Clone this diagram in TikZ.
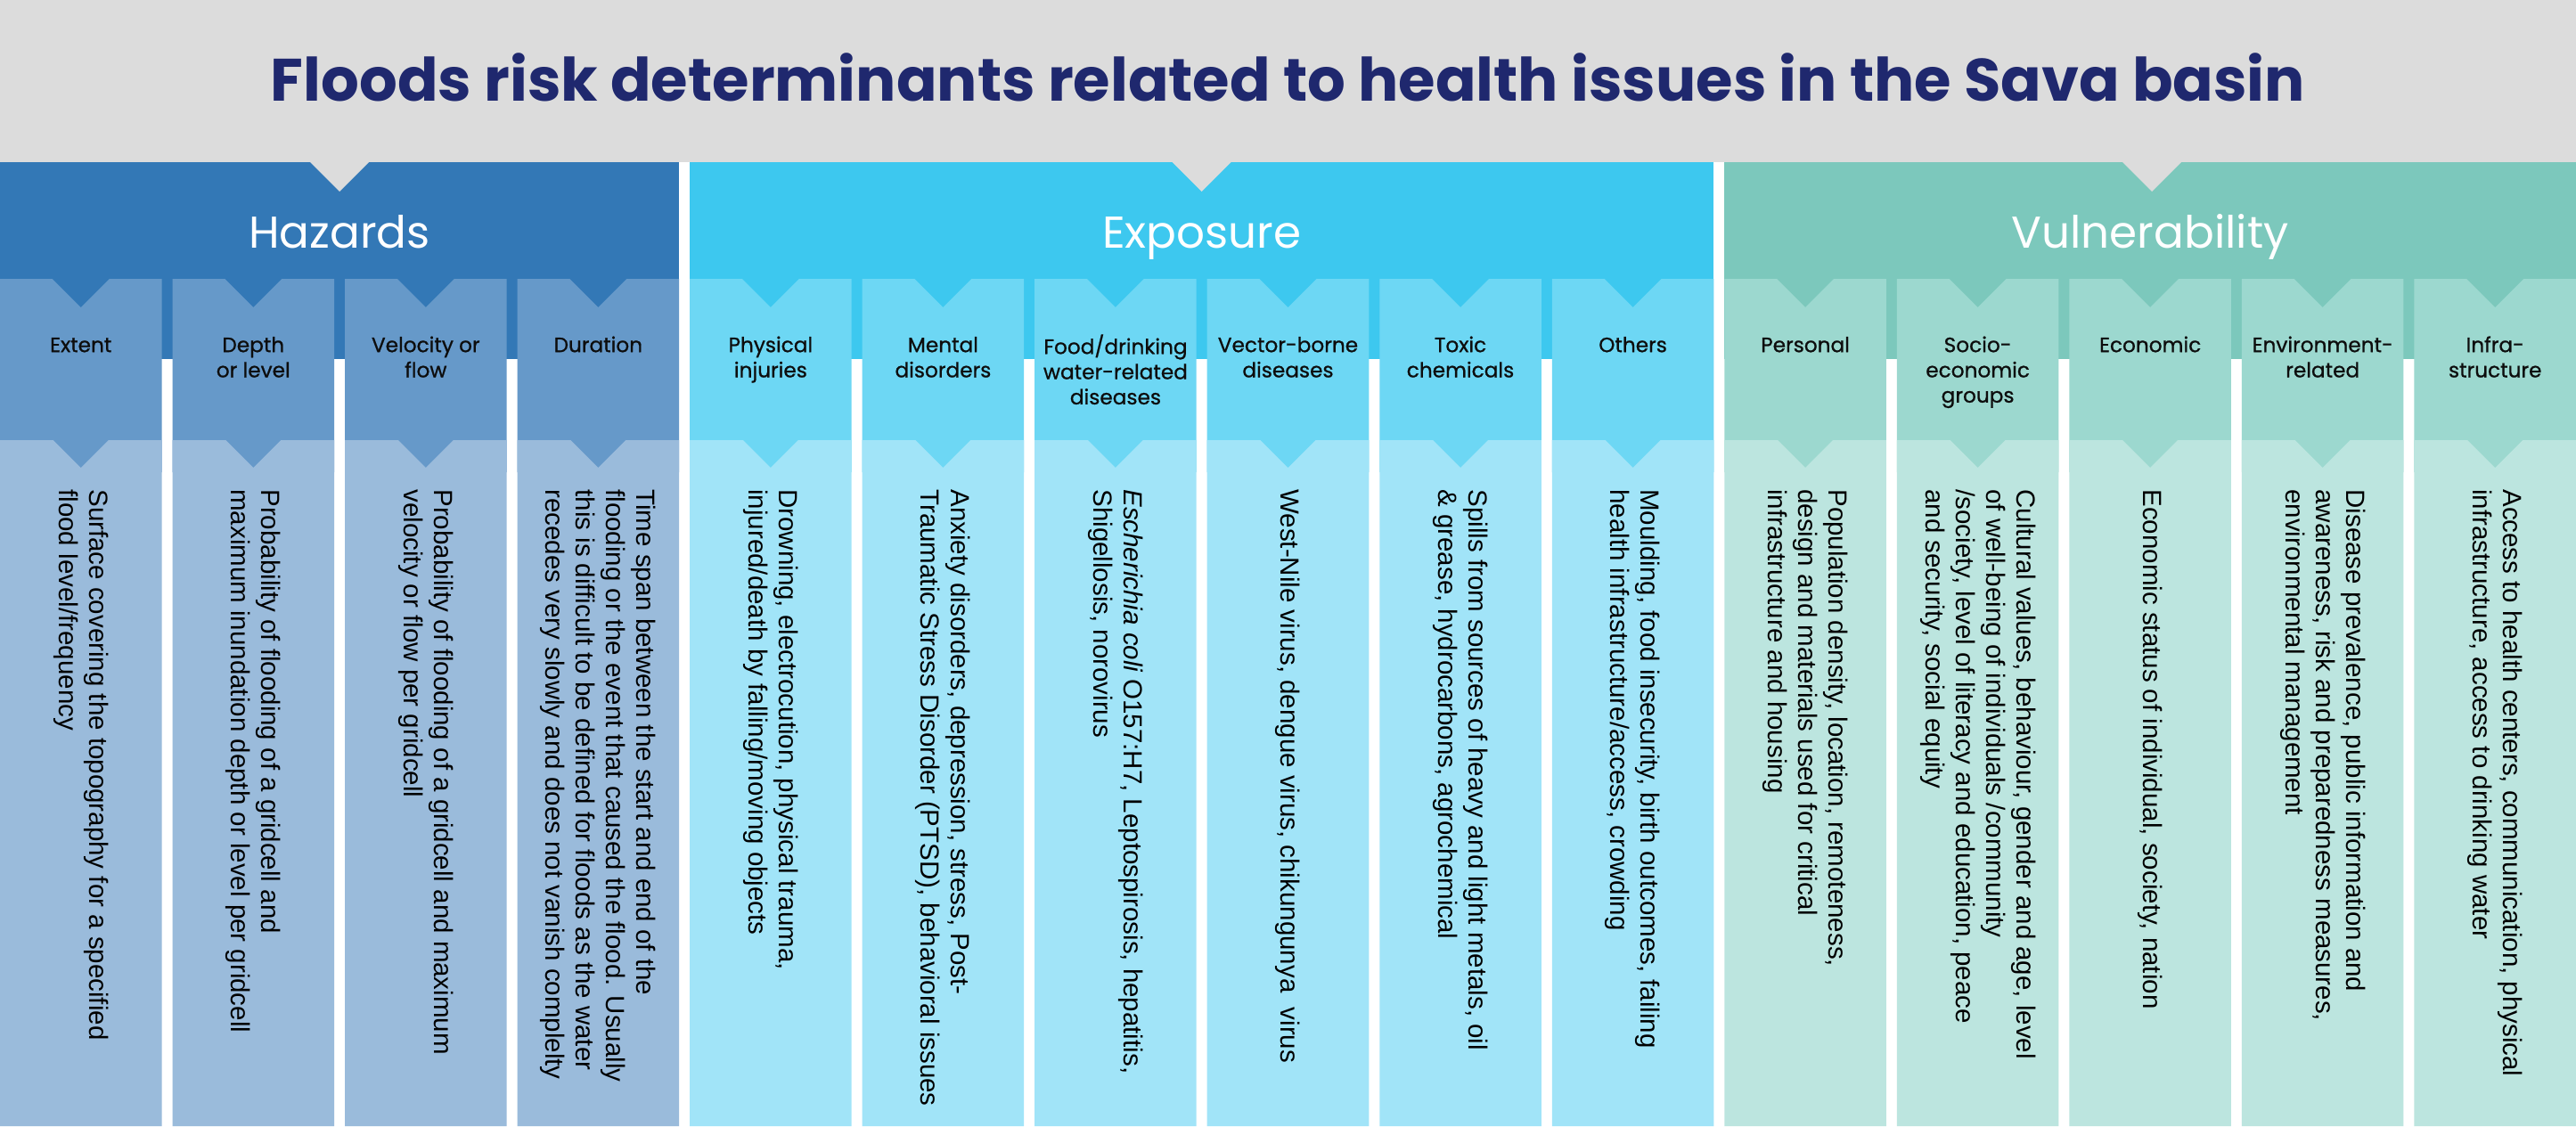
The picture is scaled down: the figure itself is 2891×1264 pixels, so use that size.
\documentclass[tikz,border=0pt]{standalone}
\usepackage{fontspec}
\setmainfont{Liberation Sans}
\newfontfamily\popfont{Poppins}
\newfontfamily\popmed[FakeBold=0.8]{Poppins}
\definecolor{topgray}{HTML}{DCDCDC}
\definecolor{titleblue}{HTML}{1F286E}
\definecolor{hazband}{HTML}{3378B6}
\definecolor{hazsub}{HTML}{6699C9}
\definecolor{hazlow}{HTML}{9ABBDB}
\definecolor{expband}{HTML}{3DC8EF}
\definecolor{expsub}{HTML}{6DD7F4}
\definecolor{explow}{HTML}{A1E4F8}
\definecolor{vulband}{HTML}{7CC8BC}
\definecolor{vulsub}{HTML}{9CD8CF}
\definecolor{vullow}{HTML}{BCE5DF}
\newcommand\detcol[5]{%
  \pgfmathsetmacro\dcL{#1*193.533}%
  \pgfmathsetmacro\dcR{\dcL+181.5}%
  \pgfmathsetmacro\dcM{\dcL+90.75}%
  \fill[#2sub] (\dcL,313) -- (\dcM-32,313) -- (\dcM,345) -- (\dcM+32,313) -- (\dcR,313) -- (\dcR,530) -- (\dcL,530) -- cycle;
  \fill[#2low] (\dcL,494) -- (\dcM-31,494) -- (\dcM,525) -- (\dcM+31,494) -- (\dcR,494) -- (\dcR,1264) -- (\dcL,1264) -- cycle;
  \node[subhead] (#3h) at (\dcM,375) {\strut#4};
  \node[bodytext] (#3b) at (\dcM,549) {#5};
}
\begin{document}
\begin{tikzpicture}[x=0.5pt,y=-0.5pt,
  subhead/.style={anchor=north, align=center, inner sep=0pt, text=black!95,
    font=\popmed\fontsize{11.6}{14.15}\selectfont},
  bodytext/.style={rotate=-90, anchor=west, align=left, inner sep=0pt, text=black,
    font=\fontsize{14.75}{17}\selectfont},
  cathead/.style={anchor=base, text=white, inner sep=0pt,
    font=\popfont\fontsize{25}{30}\selectfont}]
\useasboundingbox (0,0) rectangle (2891,1264);
\fill[white] (0,0) rectangle (2891,1264);
\fill[topgray] (0,0) rectangle (2891,182);
\node[anchor=base, inner sep=0pt, text=titleblue, font=\popfont\bfseries\fontsize{33.6}{40}\selectfont] (title) at (1445.5,113) {Floods risk determinants related to health issues in the Sava basin};
% category bands
\fill[hazband] (0,182) rectangle (762.1,403);
\fill[topgray] (348.05,182) -- (381.05,215) -- (414.05,182) -- cycle;
\fill[expband] (774.13,182) rectangle (1923.3,403);
\fill[topgray] (1315.7,182) -- (1348.7,215) -- (1381.7,182) -- cycle;
\fill[vulband] (1935.33,182) rectangle (2891,403);
\fill[topgray] (2382.1,182) -- (2415.1,215) -- (2448.1,182) -- cycle;
\node[cathead] (haz) at (381.05,278) {Hazards};
\node[cathead] (exp) at (1348.7,278) {Exposure};
\node[cathead] (vul) at (2413.1,278) {Vulnerability};
% columns
\detcol{0}{haz}{c1}{Extent}{Surface covering the topography for a specified\\flood level/frequency}
\detcol{1}{haz}{c2}{Depth\\or level}{Probability of flooding of a gridcell and\\maximum inundation depth or level per gridcell}
\detcol{2}{haz}{c3}{Velocity or\\flow}{Probability of flooding of a gridcell and maximum\\velocity or flow per gridcell}
\detcol{3}{haz}{c4}{Duration}{Time span between the start and end of the\\flooding or the event that caused the flood. Usually\\this is difficult to be defined for floods as the water\\recedes very slowly and does not vanish complelty}
\detcol{4}{exp}{c5}{Physical\\injuries}{Drowning, electrocution, physical trauma,\\injured/death by falling/moving objects}
\detcol{5}{exp}{c6}{Mental\\disorders}{Anxiety disorders, depression, stress, Post-\\Traumatic Stress Disorder (PTSD), behavioral issues}
\detcol{6}{exp}{c7}{Food/drinking\\water-related\\diseases}{{\itshape Escherichia coli} O157:H7, Leptospirosis, hepatitis,\\Shigellosis, norovirus}
\detcol{7}{exp}{c8}{Vector-borne\\diseases}{West-Nile virus, dengue virus, chikungunya\ \ virus}
\detcol{8}{exp}{c9}{Toxic\\chemicals}{Spills from sources of heavy and light metals, oil\\\& grease, hydrocarbons, agrochemical}
\detcol{9}{exp}{c10}{Others}{Moulding, food insecurity, birth outcomes, failing\\health infrastructure/access, crowding}
\detcol{10}{vul}{c11}{Personal}{Population density, location, remoteness,\\design and materials used for critical\\infrastructure and housing}
\detcol{11}{vul}{c12}{Socio-\\economic\\groups}{Cultural values, behaviour, gender and age, level\\of well-being of individuals /community\\/society, level of literacy and education, peace\\and security, social equity}
\detcol{12}{vul}{c13}{Economic}{Economic status of individual, society, nation}
\detcol{13}{vul}{c14}{Environment-\\related}{Disease prevalence, public information and\\awareness, risk and preparedness measures,\\environmental management}
\detcol{14}{vul}{c15}{Infra-\\structure}{Access to health centers, communication, physical\\infrastructure, access to drinking water}
\end{tikzpicture}
\end{document}
